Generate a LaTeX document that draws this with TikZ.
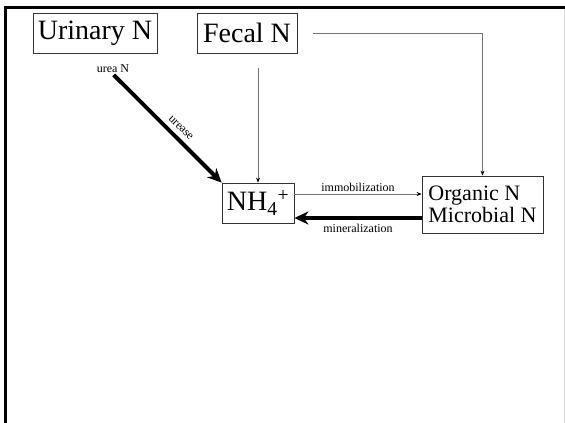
\documentclass[tikz,border=0pt]{standalone}
\usepackage{fontspec}
\setmainfont{Liberation Serif}
\usetikzlibrary{arrows.meta}
\tikzset{
  pool/.style={draw=black!80,line width=0.8pt,inner sep=0pt,align=left,
    font=\fontsize{28}{30}\selectfont},
  flowlabel/.style={inner sep=1pt,font=\fontsize{12}{13}\selectfont},
  thinflow/.style={draw=black!55,line width=0.6pt,-{Stealth[length=5pt,width=4pt,black]}},
  bigflow/.style={draw=black,line width=4pt,-{Stealth[length=14pt,width=13pt]}}
}
\begin{document}
\begin{tikzpicture}[x=1pt,y=-1pt]
\useasboundingbox (0,0) rectangle (565,423);
% frame
\draw[line width=3pt] (5.5,423) -- (5.5,7.5) -- (565,7.5);
\draw[black!15,line width=0.8pt] (564,9) -- (564,423);
% pools
\node[pool,minimum width=124pt,minimum height=40pt] (urin) at (95,33) {Urinary N};
\node[pool,minimum width=100pt,minimum height=40pt] (fecal) at (247,33) {Fecal N};
\node[pool,minimum width=72pt,minimum height=40pt] (nh) at (258,203) {NH\textsubscript{4}\textsuperscript{+}};
\node[pool,minimum width=121pt,minimum height=57pt,font=\fontsize{22}{22}\selectfont] (org) at (482.5,204.5) {Organic N\\Microbial N};
\node[flowlabel] (urea) at (113,69) {urea N};
\coordinate (fr) at (313,33);
\coordinate (fb) at (258,68);
% flows
\draw[thinflow] (fr) -| (org.north);
\draw[thinflow] (fb) to (nh.north);
\draw[bigflow,shorten <=1pt] (urea.south) to node[flowlabel,pos=0.56,above=4pt,sloped] (urease) {urease} (nh.north west);
\draw[thinflow] ([yshift=10.5pt]org.west -| nh.east) to node[flowlabel,above=1pt] (immo) {immobilization} ([yshift=10.5pt]org.west);
\draw[bigflow] ([yshift=-13.5pt]org.west) to node[flowlabel,below=3pt] (mine) {mineralization} ([yshift=-13.5pt]org.west -| nh.east);
\end{tikzpicture}
\end{document}
